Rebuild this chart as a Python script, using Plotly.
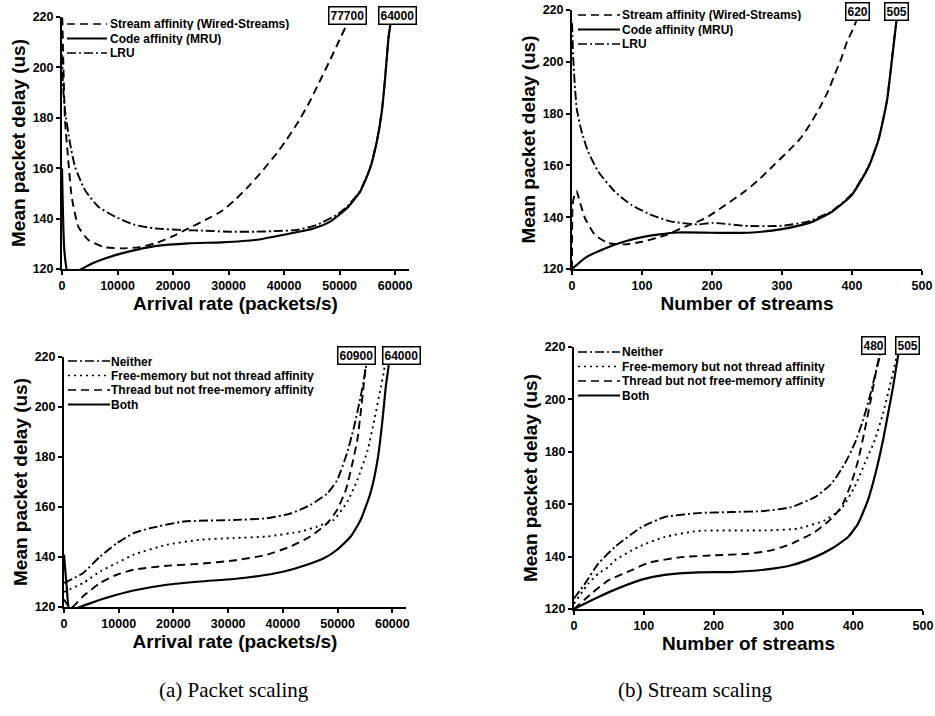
import plotly.graph_objects as go

W, H = 935, 716

# ---------------- data ----------------
# (a) Packet scaling, top: arrival rate (packets/s) vs mean delay (us)
stream_a_x = [0, 540, 1140, 1740, 2940, 4740, 7750, 10750, 13750, 16750, 19760, 22760, 25760, 28770,
              31200, 33900, 36300, 38700, 40500, 42300, 44400, 46200, 48300, 50100, 51600, 52200]
stream_a_y = [225, 179, 163, 148.7, 136.8, 131.5, 128.6, 128.2, 128.6, 130.2, 132.8, 136.1, 139.4, 143,
              147.5, 153.5, 159.5, 166, 171.5, 177.5, 185.5, 193.5, 203, 211.5, 218.5, 222]
mru_a_x = [0, 400, 1000, 2500, 3500, 5500, 7750, 10750, 13750, 16750, 22750, 28770, 34800, 40000,
           45300, 48300, 51300, 53700, 55500, 56700, 57600, 58200, 58800, 59200, 59500]
mru_a_y = [160, 128, 119, 119, 120, 122.3, 124.2, 126.2, 127.8, 129.1, 130.2, 130.6, 131.5, 133.6,
           136.1, 138.8, 144.1, 150.7, 160, 170.5, 182.4, 195.7, 211.5, 218, 224]
lru_a_x = [0, 200, 540, 1440, 2340, 4140, 6550, 9550, 13150, 16750, 21560, 25760, 30270, 34800,
           38000, 42300, 45900, 49500, 51300, 53700, 55500, 56700, 57600, 58200, 58800, 59200]
lru_a_y = [205, 192, 183, 170, 160.6, 151.3, 144.7, 140.8, 137.5, 136.1, 135.5, 135.2, 134.8, 134.8,
           135, 135.5, 137.5, 141.5, 144.6, 151, 160.2, 170.7, 182.6, 195.9, 211.7, 218]

# (b) Stream scaling, top: number of streams vs mean delay (us)
stream_b_x = [0, 1, 4, 6.7, 10, 18.6, 33, 52, 76, 100, 133, 161, 190, 219, 247, 265, 288, 310,
              326, 340, 354, 366, 376, 385, 393, 402, 409, 412]
stream_b_y = [120, 145, 149, 150, 147, 139.6, 133.1, 130, 129.5, 130.5, 133, 136.3, 139.5, 144.7,
              150, 154, 160, 165.8, 170.3, 175.8, 182.3, 188.8, 195.5, 201.5, 207.8, 213, 218, 223]
mru_b_x = [0, 20, 48, 75, 100, 125, 152, 200, 252, 300, 338, 371, 400, 424, 438, 450, 457, 464, 467]
mru_b_y = [120, 124.5, 128, 130.6, 132.3, 133.4, 134.1, 134, 134, 135.4, 137.7, 142, 148.7, 159.6,
           170, 185, 200.7, 217, 224]
lru_b_x = [0, 2, 6.7, 13.8, 23, 37.6, 61, 85, 114, 142, 180, 200, 252, 300, 338, 371, 400, 424,
           438, 450, 457, 464, 467]
lru_b_y = [215, 200, 182, 173, 165.3, 157.6, 149.9, 144.7, 140.8, 138.3, 137.2, 137.8, 136.6, 136.7,
           138.4, 142.3, 149, 159.8, 170.2, 185.2, 200.9, 217.2, 224]

# (a) Packet scaling, bottom
neither_c_x = [0, 3500, 6600, 9650, 12700, 15700, 21900, 31000, 37100, 41400, 45000, 48100, 49900,
               51700, 53000, 54200, 55100, 55500]
neither_c_y = [129.6, 133.6, 140.2, 145.5, 149.5, 151.5, 154.2, 154.8, 155.5, 157.4, 160.8, 165.4,
               170.7, 181.4, 192, 204, 214.6, 222]
free_c_x = [0, 3500, 6600, 9650, 12700, 18800, 24900, 31000, 37100, 43200, 46300, 49300, 51800,
            53600, 55500, 56700, 57900, 58500, 58900]
free_c_y = [126, 129.6, 134.2, 137.6, 140.9, 144.9, 146.9, 147.6, 148.2, 150.2, 152.2, 154.9, 162.2,
            170.8, 182.8, 194.7, 208, 214.6, 222]
thread_c_x = [0, 1200, 3500, 6600, 9650, 12700, 18800, 24900, 31000, 37100, 41400, 45000, 48100,
              49900, 51500, 52700, 53600, 54200, 54800, 55100, 55400]
thread_c_y = [123, 119.5, 124.3, 129.6, 132.9, 134.9, 136.5, 137.3, 138.6, 140.9, 144.2, 148.2, 153.5,
              158.8, 166.8, 177.4, 186.7, 197.3, 209.4, 216, 222]
both_c_x = [0, 500, 1000, 2900, 6600, 9650, 12700, 18800, 24900, 31000, 37100, 40200, 44400, 47500,
            49900, 52400, 54200, 56000, 57300, 58200, 58800, 59300, 59600]
both_c_y = [141, 128, 119, 120, 122.9, 124.9, 126.6, 128.9, 130.2, 131.2, 132.9, 134.2, 136.9, 139.5,
            142.9, 148.2, 154.8, 165.5, 178.8, 194.7, 208, 216, 224]

# (b) Stream scaling, bottom
neither_d_x = [0, 15.7, 34.8, 58.7, 97, 130, 178, 225.7, 273, 311.5, 345, 368.8, 388, 402, 414,
               423.6, 433, 438, 440]
neither_d_y = [124, 129.7, 137.3, 143.7, 151.3, 155.1, 156.6, 157, 157.4, 158.9, 162.7, 167.8, 175.5,
               183.1, 192, 200.9, 211.1, 216.2, 222]
free_d_x = [0, 20.5, 34.8, 49, 58.7, 92, 130, 178, 273, 321, 359, 383, 402, 416.5, 430.8, 442.7,
            452, 462, 465]
free_d_y = [122, 129.7, 133.5, 136, 138.6, 143.7, 147.5, 149.8, 150, 150.7, 153.8, 158.3, 166.6,
            175.5, 184.4, 194.6, 204.7, 216.2, 222]
thread_d_x = [0, 25, 49, 82.5, 106, 154, 202, 249.5, 283, 311.5, 345, 368.8, 383, 397, 407, 416.5,
              426, 433, 438, 440]
thread_d_y = [120, 125.9, 130.9, 134.8, 137.6, 139.8, 140.5, 141.1, 142.4, 144.9, 149.4, 154.5,
              158.9, 167.8, 176.7, 188.2, 200.9, 211.1, 217.5, 222]
both_d_x = [0, 35, 58.7, 96.9, 130, 178, 225.7, 273, 311.5, 345, 368.8, 392.7, 407, 421, 433,
            442.7, 450, 457, 464, 467]
both_d_y = [120, 124.6, 127.4, 131.2, 133.0, 134.0, 134.1, 135, 136.7, 139.8, 143, 147.5, 152.6,
            161.5, 172.9, 184.4, 194.6, 204.7, 216.2, 222]

top_names = ["Stream affinity (Wired-Streams)", "Code affinity (MRU)", "LRU"]
bottom_names = ["Neither", "Free-memory but not thread affinity",
                "Thread but not free-memory affinity", "Both"]
box_labels_a = ["77700", "64000"]
box_labels_b = ["620", "505"]
box_labels_c = ["60900", "64000"]
box_labels_d = ["480", "505"]
x_titles = ["Arrival rate (packets/s)", "Number of streams"]
y_title = "Mean packet delay (us)"
captions = ["(a) Packet scaling", "(b) Stream scaling"]

# ---------------- styles ----------------
FONT = "Liberation Sans, Arial, sans-serif"
DASH = "8px,5px"
DASHDOT = "9px,3px,2px,3px"
DOT = "2px,4px"
STY = {"solid": None, "dash": DASH, "dashdot": DASHDOT, "dot": DOT}


def fx(px):
    return px / W


def fy(py):
    return 1 - py / H


fig = go.Figure()


def add(xs, ys, name, style, k):
    fig.add_trace(go.Scatter(
        x=xs, y=ys, mode="lines", name=name, showlegend=False,
        line=dict(color="black", width=2.2 if style == "solid" else 1.9,
                  dash=STY[style] if STY[style] else "solid", shape="spline", smoothing=0.5),
        xaxis="x" + ("" if k == 1 else str(k)), yaxis="y" + ("" if k == 1 else str(k)),
        hoverinfo="skip"))


add(stream_a_x, stream_a_y, top_names[0], "dash", 1)
add(lru_a_x, lru_a_y, top_names[2], "dashdot", 1)
add(mru_a_x, mru_a_y, top_names[1], "solid", 1)
add(stream_b_x, stream_b_y, top_names[0], "dash", 2)
add(lru_b_x, lru_b_y, top_names[2], "dashdot", 2)
add(mru_b_x, mru_b_y, top_names[1], "solid", 2)
add(neither_c_x, neither_c_y, bottom_names[0], "dashdot", 3)
add(free_c_x, free_c_y, bottom_names[1], "dot", 3)
add(thread_c_x, thread_c_y, bottom_names[2], "dash", 3)
add(both_c_x, both_c_y, bottom_names[3], "solid", 3)
add(neither_d_x, neither_d_y, bottom_names[0], "dashdot", 4)
add(free_d_x, free_d_y, bottom_names[1], "dot", 4)
add(thread_d_x, thread_d_y, bottom_names[2], "dash", 4)
add(both_d_x, both_d_y, bottom_names[3], "solid", 4)

tickfont = dict(family=FONT, size=12.5, color="black", weight="bold")
titlefont = dict(family=FONT, size=19, color="black", weight="bold")


def xax(dom, rng, dtick, title):
    return dict(domain=dom, range=rng, dtick=dtick, tick0=0, tickformat="d", showgrid=False,
                zeroline=False, showline=True, linecolor="black", linewidth=2, ticks="outside",
                ticklen=4, tickwidth=1.5, tickcolor="black", tickfont=tickfont, automargin=False,
                title=dict(text=title, font=titlefont, standoff=2))


def yax(dom, title):
    return dict(domain=dom, range=[120, 220], dtick=20, showgrid=False, zeroline=False,
                showline=True, linecolor="black", linewidth=2, ticks="outside", ticklen=4,
                tickwidth=1.5, tickcolor="black", tickfont=tickfont, automargin=False,
                title=dict(text=title, font=titlefont, standoff=2))


layout = dict(
    width=W, height=H, autosize=False, margin=dict(l=0, r=0, t=0, b=0),
    paper_bgcolor="white", plot_bgcolor="white", showlegend=False,
    xaxis=dict(xax([fx(62), fx(409)], [0, 62500], 10000, x_titles[0]), anchor="y"),
    yaxis=dict(yax([fy(269), fy(17)], y_title), anchor="x"),
    xaxis2=dict(xax([fx(572), fx(922)], [0, 500], 100, x_titles[1]), anchor="y2"),
    yaxis2=dict(yax([fy(269), fy(10)], y_title), anchor="x2"),
    xaxis3=dict(xax([fx(64), fx(406)], [0, 62500], 10000, x_titles[0]), anchor="y3"),
    yaxis3=dict(yax([fy(607), fy(357)], y_title), anchor="x3"),
    xaxis4=dict(xax([fx(574), fx(923)], [0, 500], 100, x_titles[1]), anchor="y4"),
    yaxis4=dict(yax([fy(609), fy(347)], y_title), anchor="x4"),
)
fig.update_layout(**layout)

shapes = []
annotations = []
legfont = dict(family=FONT, size=12, color="black", weight="bold")


def legend(x0, x1, xt, rows, names, styles):
    for y, n, s in zip(rows, names, styles):
        shapes.append(dict(type="line", xref="paper", yref="paper", x0=fx(x0), x1=fx(x1),
                           y0=fy(y), y1=fy(y),
                           line=dict(color="black", width=2 if s == "solid" else 1.6,
                                     dash=STY[s] if STY[s] else "solid")))
        annotations.append(dict(xref="paper", yref="paper", x=fx(xt), y=fy(y), text=n,
                                showarrow=False, xanchor="left", yanchor="middle", font=legfont,
                                height=13, borderpad=0))


legend(67, 107, 109, [24, 38.5, 53], top_names, ["dash", "solid", "dashdot"])
legend(578, 620, 621, [15, 29.5, 44], top_names, ["dash", "solid", "dashdot"])
legend(68, 110, 110, [361, 375.5, 390, 404.5], bottom_names, ["dashdot", "dot", "dash", "solid"])
legend(578, 620, 621, [352, 366.5, 381, 395.5], bottom_names, ["dashdot", "dot", "dash", "solid"])

boxfont = dict(family=FONT, size=12, color="black", weight="bold")


def boxes(labels, centers, y):
    for t, c in zip(labels, centers):
        annotations.append(dict(xref="paper", yref="paper", x=fx(c), y=fy(y), text=t,
                                showarrow=False, xanchor="center", yanchor="middle", font=boxfont,
                                bordercolor="black", borderwidth=1.5, borderpad=1, bgcolor="white"))


boxes(box_labels_a, [347, 397], 16)
boxes(box_labels_b, [857, 896], 11)
boxes(box_labels_c, [356, 401], 355)
boxes(box_labels_d, [873, 907], 345)

capfont = dict(family="Liberation Serif, Times New Roman, serif", size=21, color="black")
annotations.append(dict(xref="paper", yref="paper", x=fx(234), y=fy(690), text=captions[0],
                        showarrow=False, font=capfont, xanchor="center", yanchor="middle"))
annotations.append(dict(xref="paper", yref="paper", x=fx(695), y=fy(690), text=captions[1],
                        showarrow=False, font=capfont, xanchor="center", yanchor="middle"))

fig.update_layout(shapes=shapes, annotations=annotations)
fig.write_html("out.html", config={"displayModeBar": False},
               post_script="document.body.style.margin='0';document.body.style.overflow='hidden';")
